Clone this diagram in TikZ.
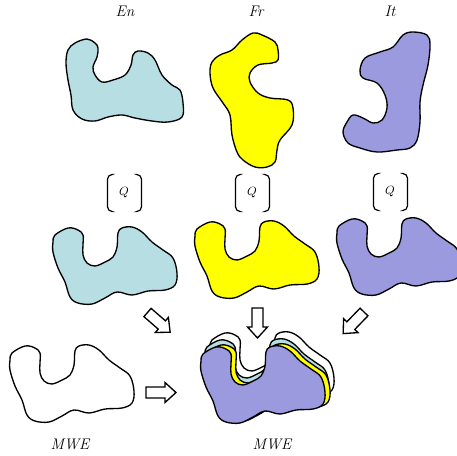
\documentclass[tikz,border=0pt]{standalone}
\usetikzlibrary{calc}
\definecolor{lblue}{RGB}{183,222,226}
\definecolor{yel}{RGB}{255,255,0}
\definecolor{purp}{RGB}{156,154,223}
\newcommand\ublob[1]{\draw[blob,#1] plot[smooth cycle, tension=.6] coordinates {(53,242) (55,235) (68,228) (78,230) (83,235) (83,245) (83,255) (87,263) (95,266) (105,262) (113,257) (117,247) (118,233) (122,228) (132,227) (142,232) (152,242) (163,250) (173,258) (177,273) (175,285) (165,290) (148,291) (132,295) (117,292) (105,298) (92,304) (78,303) (70,297) (65,282) (58,268) (53,252)};}
\tikzset{
  blob/.style={draw=black, line width=1pt, line join=round},
  lab/.style={font=\fontsize{11.5}{13}\selectfont\itshape, inner sep=0pt},
  qlab/.style={font=\small, inner sep=0pt},
  bracketline/.style={draw=black, line width=0.9pt, rounded corners=3.5pt},
  arrowline/.style={draw=black, line width=1pt, fill=white, line join=miter},
  blockarrow/.pic={\draw[arrowline] (0,-5.5) -- (19,-5.5) -- (19,-10) -- (30,0) -- (19,10) -- (19,5.5) -- (0,5.5) -- cycle;}
}
\begin{document}
\begin{tikzpicture}[x=0.75pt,y=-0.75pt]
\useasboundingbox (0,0) rectangle (457,455);
% labels
\node[lab] (en) at (125,11) {En};
\node[lab] (fr) at (256,11) {Fr};
\node[lab] (it) at (390,11) {It};
% top blobs
\draw[blob, fill=lblue] plot[smooth cycle, tension=.6] coordinates {(68,50) (75,43) (87,39) (95,43) (98,48) (97,57) (93,67) (95,75) (102,82) (113,80) (125,75) (131,65) (133,55) (138,51) (148,53) (155,60) (162,75) (172,85) (180,90) (183,103) (182,117) (168,122) (152,121) (135,118) (122,115) (108,117) (95,121) (82,119) (73,110) (71,95) (68,80) (66,63)};
\draw[blob, fill=yel] plot[smooth cycle, tension=.6] coordinates {(253,33) (262,35) (275,42) (278,50) (278,60) (272,63) (258,65) (250,73) (250,82) (258,93) (270,98) (288,100) (293,108) (292,125) (280,140) (277,150) (275,162) (267,167) (255,167) (243,160) (237,152) (232,135) (230,115) (223,103) (213,88) (210,73) (212,62) (220,55) (232,50) (242,40)};
\draw[blob, fill=purp] plot[smooth cycle, tension=.6] coordinates {(413,32) (427,35) (430,45) (428,65) (423,85) (420,102) (420,122) (417,140) (410,148) (397,150) (377,152) (360,148) (348,143) (343,132) (347,122) (353,115) (363,118) (373,123) (382,120) (387,108) (385,95) (377,83) (363,78) (360,70) (365,58) (380,52) (393,47) (403,35)};
% Q operators
\node[qlab] (q1) at (124,193) {$Q$};
\node[qlab] (q2) at (252,193) {$Q$};
\node[qlab] (q3) at (390,192) {$Q$};
\foreach \q in {q1,q2,q3}{
  \draw[bracketline] ($(\q.center)+(-12,-18.5)$) -- ++(-4.5,0) -- ++(0,37) -- ++(4.5,0);
  \draw[bracketline] ($(\q.center)+(13,-18.5)$) -- ++(4.5,0) -- ++(0,37) -- ++(-4.5,0);
}
% middle blobs
\ublob{fill=lblue}
\ublob{fill=yel, shift={(142,-6)}}
\ublob{fill=purp, shift={(284,-9)}}
% bottom
\ublob{fill=white, shift={(-43,118)}}
\ublob{fill=white, shift={(157,105)}}
\ublob{fill=lblue, shift={(152,112)}}
\ublob{fill=yel, shift={(153,117)}}
\ublob{fill=purp, shift={(148,119)}}
% block arrows
\pic[rotate=-41] at (147.5,312.5) {blockarrow};
\pic[rotate=-90] at (257.5,308) {blockarrow};
\pic[rotate=-134] at (364,312) {blockarrow};
\pic at (146,392.5) {blockarrow};
% bottom labels
\node[lab] (mwe1) at (70,444) {MWE};
\node[lab] (mwe2) at (272,444) {MWE};
\end{tikzpicture}
\end{document}
